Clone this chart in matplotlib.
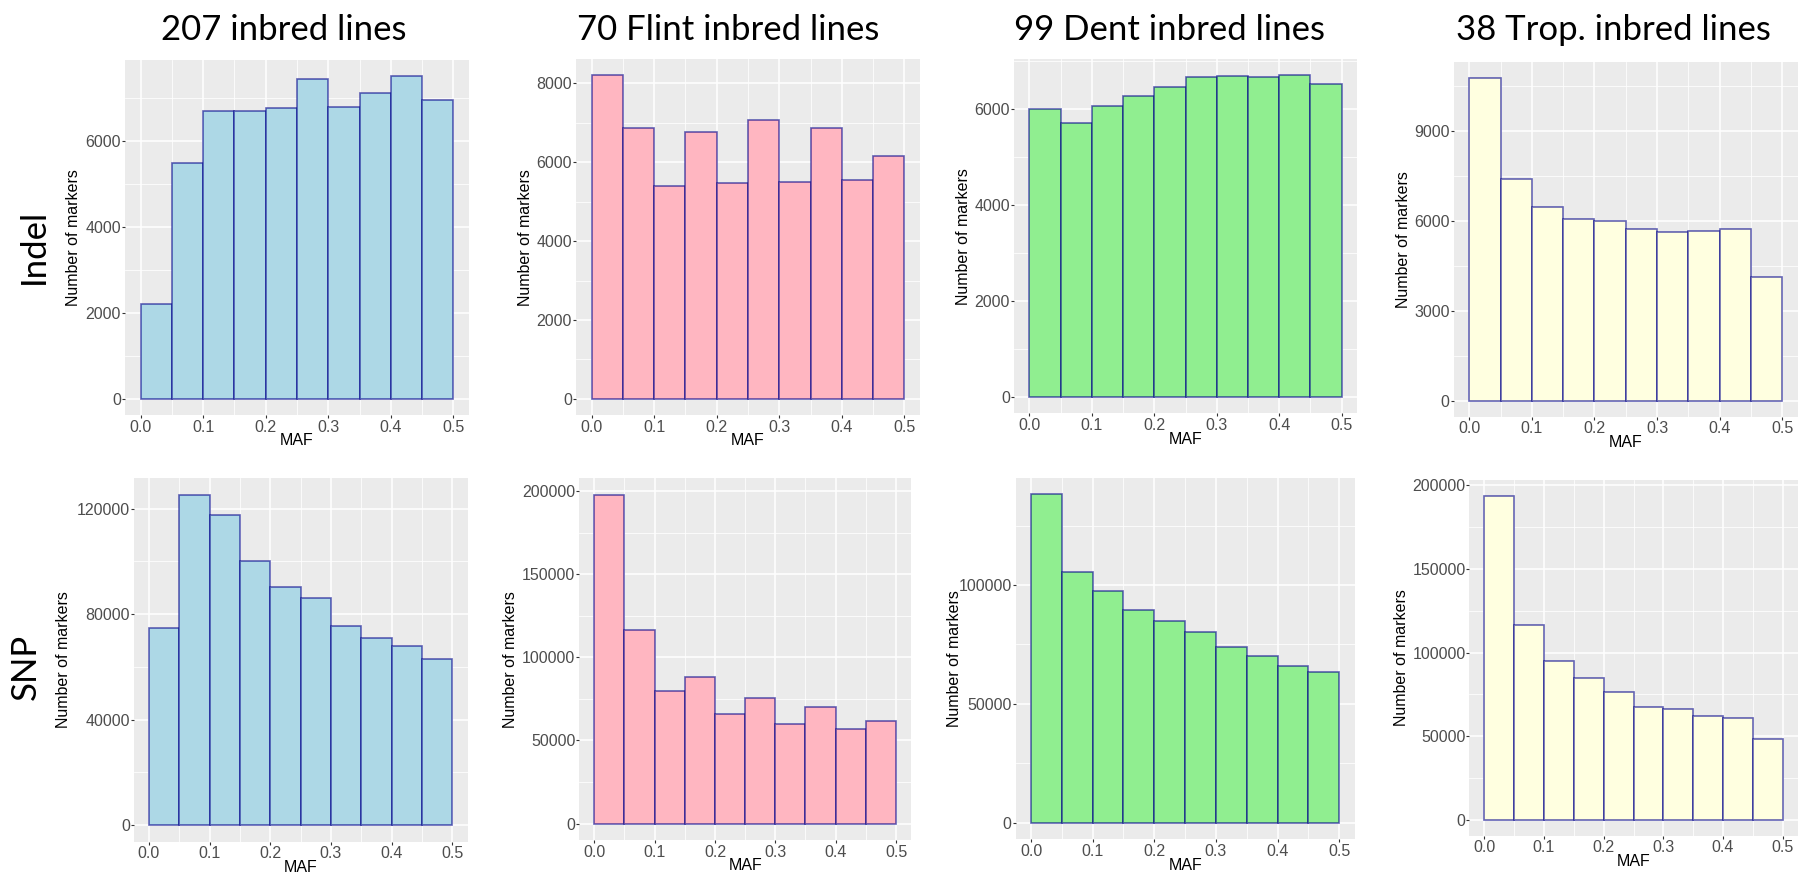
import matplotlib
matplotlib.use("Agg")
import matplotlib.pyplot as plt
import numpy as np

# ---------------- data ----------------
bin_edges = [0.0, 0.05, 0.10, 0.15, 0.20, 0.25, 0.30, 0.35, 0.40, 0.45, 0.50]
x_ticks = [0.0, 0.1, 0.2, 0.3, 0.4, 0.5]
x_tick_labels = ["0.0", "0.1", "0.2", "0.3", "0.4", "0.5"]

column_titles = ["207 inbred lines", "70 Flint inbred lines",
                 "99 Dent inbred lines", "38 Trop. inbred lines"]
row_titles = ["Indel", "SNP"]

indel_all = [2200, 5500, 6700, 6700, 6780, 7450, 6800, 7120, 7520, 6960]
indel_flint = [8200, 6880, 5390, 6760, 5480, 7070, 5500, 6880, 5545, 6150]
indel_dent = [6000, 5710, 6055, 6265, 6460, 6665, 6695, 6675, 6700, 6520]
indel_trop = [10780, 7415, 6455, 6075, 5995, 5740, 5625, 5680, 5740, 4140]

snp_all = [74600, 125200, 117600, 100200, 90400, 86200, 75400, 71000, 68000, 62800]
snp_flint = [197800, 116600, 80000, 87900, 65900, 75600, 60100, 70000, 57100, 61700]
snp_dent = [138300, 105300, 97400, 89400, 84800, 80300, 74000, 70200, 66000, 63200]
snp_trop = [193600, 116300, 95100, 84700, 76600, 67600, 66000, 62000, 60600, 48000]

y_ticks_indel_all = [0, 2000, 4000, 6000]
y_ticks_indel_flint = [0, 2000, 4000, 6000, 8000]
y_ticks_indel_dent = [0, 2000, 4000, 6000]
y_ticks_indel_trop = [0, 3000, 6000, 9000]
y_ticks_snp_all = [0, 40000, 80000, 120000]
y_ticks_snp_flint = [0, 50000, 100000, 150000, 200000]
y_ticks_snp_dent = [0, 50000, 100000]
y_ticks_snp_trop = [0, 50000, 100000, 150000, 200000]

fills = ["#ADD8E6", "#FFB6C1", "#90EE90", "#FFFFE0"]

# ---------------- layout (pixels) ----------------
W, H = 1798, 876
fig = plt.figure(figsize=(W / 100, H / 100), dpi=100)

# (x0, y0_top, x1, y1_bottom, ylabel_center_x)
boxes = [
    [(125, 60, 469, 415, 74), (576, 59.3, 920, 415, 525.7),
     (1013.7, 59.3, 1357.3, 413, 963.3), (1453.6, 61.7, 1798, 416.7, 1404)],
    [(133.8, 478.3, 467.5, 841.7, 64), (579.2, 478.3, 911.1, 840, 510.7),
     (1015.6, 477.7, 1354.7, 839, 955), (1469.4, 480, 1797.6, 835.7, 1401.7)],
]
title_x = [284, 728, 1170, 1613]

values = [[indel_all, indel_flint, indel_dent, indel_trop],
          [snp_all, snp_flint, snp_dent, snp_trop]]
yticks = [[y_ticks_indel_all, y_ticks_indel_flint, y_ticks_indel_dent, y_ticks_indel_trop],
          [y_ticks_snp_all, y_ticks_snp_flint, y_ticks_snp_dent, y_ticks_snp_trop]]

tick_font = dict(family="Liberation Sans", size=11.5, color="#4D4D4D")
lab_font = dict(family="Liberation Sans", size=11.5, color="black")

for r in range(2):
    for c in range(4):
        x0, y0, x1, y1, ylx = boxes[r][c]
        ax = fig.add_axes([x0 / W, 1 - y1 / H, (x1 - x0) / W, (y1 - y0) / H])
        ax.set_facecolor("#EBEBEB")
        vals = values[r][c]
        ax.bar(bin_edges[:-1], vals, width=0.05, align="edge",
               color=fills[c], edgecolor=(0, 0, 0.545, 0.6), linewidth=1.2, zorder=3)
        vmax = max(vals)
        ax.set_xlim(-0.025, 0.525)
        ax.set_ylim(-0.05 * vmax, 1.05 * vmax)
        yt = yticks[r][c]
        step = yt[1] - yt[0]
        ax.set_xticks(x_ticks)
        ax.set_xticklabels(x_tick_labels, fontdict=tick_font)
        ax.set_yticks(yt)
        ax.set_yticklabels([str(v) for v in yt], fontdict=tick_font)
        ax.set_xticks(bin_edges[1::2], minor=True)
        ax.set_yticks([v + step / 2 for v in yt if v + step / 2 < 1.05 * vmax], minor=True)
        ax.grid(which="major", color="white", linewidth=1.1, zorder=0)
        ax.grid(which="minor", color="white", linewidth=0.55, zorder=0)
        ax.set_axisbelow(True)
        for s in ax.spines.values():
            s.set_visible(False)
        ax.tick_params(which="major", length=2.2, width=0.8, color="#333333", pad=1.2)
        ax.tick_params(which="minor", length=0)
        ax.tick_params(axis="y", pad=0.6)
        # axis titles
        ax.annotate("MAF", xy=(0.5, 0), xycoords="axes fraction",
                    xytext=(0, -26 * 0.72), textcoords="offset points",
                    ha="center", va="center", **lab_font)
        ax.annotate("Number of markers", xy=(0, 0.5), xycoords="axes fraction",
                    xytext=(-(x0 - ylx) * 0.72, 0), textcoords="offset points",
                    ha="center", va="center", rotation=90, **lab_font)

big_font = dict(family=["Lato", "DejaVu Sans"], size=25, color="black")
for c in range(4):
    fig.text(title_x[c] / W, 1 - 30 / H, column_titles[c], ha="center", va="center", **big_font)
fig.text(34 / W, 1 - 246 / H, row_titles[0], ha="center", va="center", rotation=90, **big_font)
fig.text(26 / W, 1 - 667 / H, row_titles[1], ha="center", va="center", rotation=90, **big_font)

fig.savefig("out.png", dpi=100, facecolor="white")
